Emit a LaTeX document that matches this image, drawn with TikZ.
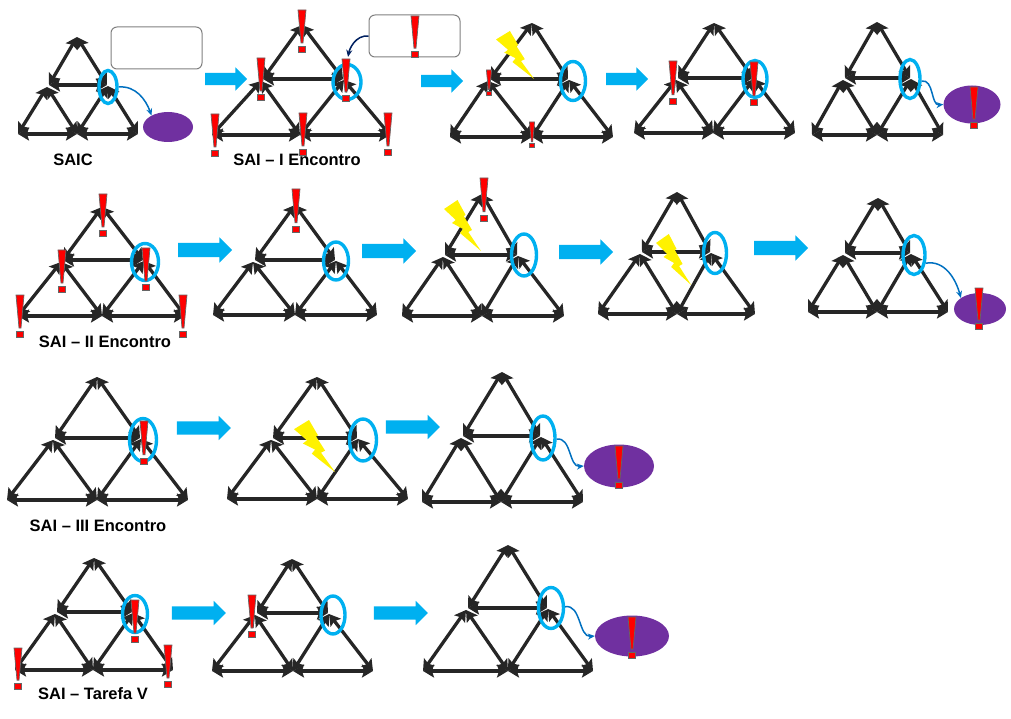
\documentclass[tikz,border=0pt]{standalone}
\usepackage{fontspec}
\setmainfont{Liberation Sans}
\usetikzlibrary{arrows.meta,shapes.geometric,shapes.arrows}
\definecolor{linkgray}{RGB}{38,38,38}
\definecolor{ringblue}{RGB}{0,176,240}
\definecolor{curveblue}{RGB}{0,112,192}
\definecolor{navyblue}{RGB}{0,32,96}
\definecolor{eventpurple}{RGB}{112,48,160}
\tikzset{
  link/.style={draw=linkgray,line width=3.3pt,{Stealth[length=11pt,width=13pt,inset=2pt]}-{Stealth[length=11pt,width=13pt,inset=2pt]}},
  ring/.style={ellipse,draw=ringblue,line width=3.4pt,inner sep=0pt},
  event/.style={ellipse,fill=eventpurple,inner sep=0pt},
  notebox/.style={draw=gray,rounded corners=6pt,line width=1pt,minimum width=91pt,minimum height=42pt,inner sep=0pt},
  flow/.style={single arrow,fill=ringblue,inner sep=0pt,single arrow head extend=5.5pt,single arrow tip angle=90},
  curve/.style={draw=curveblue,line width=1.5pt,-{Stealth[length=7pt,width=6pt]}},
  caption/.style={font=\bfseries\fontsize{16.5pt}{18pt}\selectfont,inner sep=0pt},
  excl/.pic={
    \filldraw[fill=red,draw=gray!80!black,line width=.7pt] (-4,0) -- (4,0) -- (1,33) -- (-1,33) -- cycle;
    \filldraw[fill=red,draw=gray!80!black,line width=.7pt] (-3.5,36) rectangle (3.5,42);
  },
  bolt/.pic={
    \fill[yellow] (0,9) -- (13.5,0) -- (21.6,15) -- (19.8,16) -- (28,30) -- (24.3,32) -- (37,51) -- (16,33) -- (19,29) -- (8,23) -- (11.7,20) -- cycle;
  }
}
\begin{document}
\begin{tikzpicture}[x=1pt,y=-1pt]
\useasboundingbox (0,0) rectangle (1011,719);
% triangles
\foreach \tn/\tx/\ty/\lx/\rx/\my/\ax/\mx/\bx/\by in {
  t1/77/37/49/107/85/18/77/138/134, t2/302/25/263/343/79/212/300/390/135,
  t3/532/23/490/568/79/450/532/613/137, t4/714/23/678/753/78/634/713/795/133,
  t5/877/22/845/910/78/812/877/943/135, t6/102/207/63/143/260/18/102/185/316,
  t7/295/205/255/335/260/213/295/377/315, t8/482/194/445/517/255/402/482/564/316,
  t9/677/192/642/710/252/598/677/755/314, t10/878/198/845/910/253/808/877/948/312,
  t11/97/377/55/140/438/7/97/188/500, t12/317/377/273/357/438/227/317/408/499,
  t13/502/372/463/540/436/422/501/583/502, t14/94/558/57/132/612/15/93/173/670,
  t15/292/559/257/328/613/212/293/373/671, t16/508/545/468/547/608/423/508/593/671}{
  \coordinate (\tn top) at (\tx,\ty);
  \coordinate (\tn l) at (\lx,\my);
  \coordinate (\tn r) at (\rx,\my);
  \coordinate (\tn ll) at (\lx-2,\my+2);
  \coordinate (\tn rr) at (\rx+1,\my+1);
  \coordinate (\tn a) at (\ax,\by);
  \coordinate (\tn m) at (\mx,\by);
  \coordinate (\tn b) at (\bx,\by);
  \draw[link] (\tn top) -- (\tn l);
  \draw[link] (\tn top) -- (\tn r);
  \draw[link] (\tn l) -- (\tn r);
  \draw[link] (\tn ll) -- (\tn a);
  \draw[link] (\tn ll) -- (\tn m);
  \draw[link] (\tn rr) -- (\tn m);
  \draw[link] (\tn rr) -- (\tn b);
  \draw[link] (\tn a) -- (\tn m);
  \draw[link] (\tn m) -- (\tn b);
}
% bolts
\pic[xscale=1.03,yscale=.94] at (496,31) {bolt};
\pic at (444,200) {bolt};
\pic[xscale=.95] at (656,234) {bolt};
\pic[xscale=1.11,yscale=1.02] at (294,420) {bolt};
% rings
\foreach \rn/\x/\y/\w/\h in {
  c1/108/87/18/33, c2/347/82/28/35, c3/573/81/25/39, c4/755/79/24/37,
  c5/910/79/20/39, c6/145/262/27/37, c7/336/261/25/38, c8/524/255/25/42,
  c9/715/253/23/41, c10/914/255/22/39, c11/143/440/27/43, c12/363/440/27/42,
  c13/543/438/24/44, c14/135/614/25/37, c15/333/615/24/38, c16/551/608/25/41}{
  \node[ring,minimum width=\w pt,minimum height=\h pt] (\rn) at (\x,\y) {};
}
% events
\node[event,minimum width=50pt,minimum height=30pt] (e1) at (168,127) {};
\node[event,minimum width=57pt,minimum height=38pt] (e5) at (972,104.5) {};
\node[event,minimum width=52pt,minimum height=32pt] (e10) at (980,309) {};
\node[event,minimum width=70pt,minimum height=43pt] (e13) at (619,466) {};
\node[event,minimum width=74pt,minimum height=41pt] (e16) at (632,636) {};
\draw[curve] (c1.east) to[out=5,in=110] (e1.145);
\draw[curve] (c5.-10) to[out=10,in=185] (e5.west);
\draw[curve] (c10.-35) to[out=10,in=105] (e10.150);
\draw[curve] (c13.-5) to[out=10,in=185] (e13.west);
\draw[curve] (c16.5) to[out=10,in=185] (e16.west);
% boxes
\node[notebox] (box1) at (156.5,48) {};
\node[notebox] (box2) at (414.5,36) {};
\draw[draw=navyblue,line width=1.5pt,shorten >=6pt,-{Stealth[length=7pt,width=6pt]}] (box2.west) to[out=175,in=80] (c2.north);
% marks
\foreach \px/\py/\ph in {
  302/10/42, 261/58/42, 346/59/42, 215/114/42, 303/113/42, 388/113/42, 415/16/41,
  673/61/43, 754/62/43, 974/87/41, 103/194/42, 62/250/42, 146/248/42, 20/295/42,
  183/295/42, 296/189/43, 484/178/43, 979/288/41, 144/421/43, 619/446/42,
  135/600/42, 18/648/41, 168/645/42, 252/595/42, 632/617/41}{
  \pic[yscale={\ph/42}] at (\px,\py) {excl};
}
\pic[xscale=.65,yscale=.6] at (489,70) {excl};
\pic[xscale=.65,yscale=.6] at (532,122) {excl};
% flow arrows
\foreach \an/\x/\y/\len/\wd in {
  a1/223/79/42/12, a2/439/81/42/12, a3/624/79/42/12,
  a4/201.5/250/54/14, a5/385.5/251/54/14, a6/582.5/252/54/14, a7/777.5/248/54/14,
  a8/200.5/428/54/13, a9/409.5/427/54/13, a10/195.5/613/54/13, a11/397.5/613/54/13}{
  \node[flow,minimum height=\len pt] (\an) at (\x,\y) {\rule{0pt}{\wd pt}};
}
% captions
\node[caption] (saic) at (73,160) {SAIC};
\node[caption] (enc1) at (297,160) {SAI – I Encontro};
\node[caption] (enc2) at (105,342) {SAI – II Encontro};
\node[caption] (enc3) at (98,526) {SAI – III Encontro};
\node[caption] (task5) at (93,694) {SAI – Tarefa V};
\end{tikzpicture}
\end{document}
